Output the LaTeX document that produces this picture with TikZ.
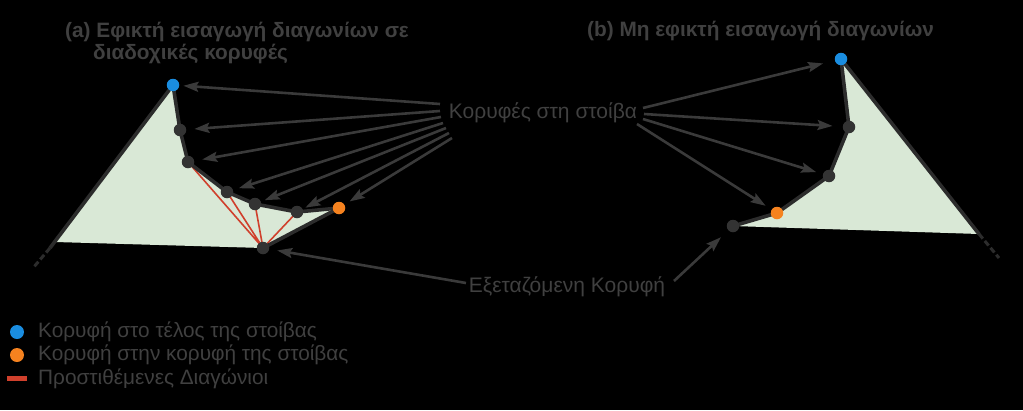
\documentclass[tikz,border=0pt]{standalone}
\usepackage{fontspec}
\setmainfont{Liberation Sans}
\usetikzlibrary{arrows.meta}
\definecolor{bg}{HTML}{000000}
\definecolor{txt}{HTML}{404040}
\definecolor{edge}{HTML}{2C2C2C}
\definecolor{vert}{HTML}{333333}
\definecolor{arr}{HTML}{3A3A3A}
\definecolor{fillg}{HTML}{D9E8D6}
\definecolor{vblue}{HTML}{1A8DE0}
\definecolor{vorange}{HTML}{F5821F}
\definecolor{diag}{HTML}{D0402C}
\tikzset{
  vtx/.style={circle,inner sep=0pt,minimum size=12.5pt,fill=vert},
  vtxb/.style={vtx,fill=vblue},
  vtxo/.style={vtx,fill=vorange},
  chain/.style={draw=edge,line width=3.6pt,line join=round},
  ext/.style={draw=edge,line width=3pt,dash pattern=on 6pt off 3pt},
  ptr/.style={draw=arr,line width=2.6pt,-{Stealth[length=15pt,width=10pt,inset=2.5pt]}},
  lbl/.style={text=txt,font=\fontsize{21}{25}\selectfont,inner sep=0pt},
  ttl/.style={text=txt,font=\bfseries\fontsize{20.8}{25}\selectfont,inner sep=0pt,anchor=west},
  leg/.style={text=txt,font=\fontsize{20.8}{25}\selectfont,inner sep=0pt,anchor=west},
  dg/.style={draw=diag,line width=1.6pt},
}
\begin{document}
\begin{tikzpicture}[x=1pt,y=-1pt]
\fill[bg] (0,0) rectangle (1023,410);
\useasboundingbox (0,0) rectangle (1023,410);
% ---------- (a) ----------
\coordinate (aL) at (55,242);
\coordinate (aLe) at (50,248);
\coordinate (aLd) at (33,268);
\coordinate (pA) at (173,85);
\coordinate (p1) at (180,130);
\coordinate (p2) at (188,162);
\coordinate (p3) at (227,192);
\coordinate (p4) at (255,204);
\coordinate (p5) at (297,212);
\coordinate (pO) at (339,208);
\coordinate (pX) at (263,248);
\fill[fillg] (pA) -- (p1) -- (p2) -- (p3) -- (p4) -- (p5) -- (pO) -- (pX) -- (aL) -- cycle;
\draw[dg] (pX) -- (p2) (pX) -- (p3) (pX) -- (p4) (pX) -- (p5);
\draw[chain] (aLe) -- (pA) -- (p1) -- (p2) -- (p3) -- (p4) -- (p5) -- (pO);
\draw[chain] (pO) -- (pX);
\draw[ext] (aLe) -- (aLd);
\node[vtxb] (a0) at (pA) {};
\node[vtx] (a1) at (p1) {};
\node[vtx] (a2) at (p2) {};
\node[vtx] (a3) at (p3) {};
\node[vtx] (a4) at (p4) {};
\node[vtx] (a5) at (p5) {};
\node[vtxo] (a6) at (pO) {};
\node[vtx] (ax) at (pX) {};
% ---------- (b) ----------
\coordinate (qA) at (841,59);
\coordinate (q1) at (849,127);
\coordinate (q2) at (829,176);
\coordinate (qO) at (777,213);
\coordinate (qX) at (733,226);
\coordinate (bR) at (979,234);
\coordinate (bRd) at (999,258);
\fill[fillg] (qA) -- (q1) -- (q2) -- (qO) -- (qX) -- (bR) -- cycle;
\draw[chain] (bR) -- (qA) -- (q1) -- (q2) -- (qO) -- (qX);
\draw[ext] (bR) -- (bRd);
\node[vtxb] (b0) at (qA) {};
\node[vtx] (b1) at (q1) {};
\node[vtx] (b2) at (q2) {};
\node[vtxo] (b3) at (qO) {};
\node[vtx] (bx) at (qX) {};
% ---------- labels ----------
\node[lbl] (stack) at (543,113) {Κορυφές στη στοίβα};
\node[lbl] (exam) at (567,287) {Εξεταζόμενη Κορυφή};
\node[ttl] (ta1) at (65,32) {(a) Εφικτή εισαγωγή διαγωνίων σε};
\node[ttl] (ta2) at (93,54) {διαδοχικές κορυφές};
\node[ttl] (tb) at (587,31) {(b) Μη εφικτή εισαγωγή διαγωνίων};
% arrow starts
\coordinate (s0) at (440,104);
\coordinate (s1) at (440,111);
\coordinate (s2) at (441,117);
\coordinate (s3) at (443,123);
\coordinate (s4) at (446,128);
\coordinate (s5) at (449,133);
\coordinate (s6) at (452,138);
\coordinate (r0) at (643,108);
\coordinate (r1) at (644,114);
\coordinate (r2) at (643,119);
\coordinate (r3) at (637,124);
\coordinate (e0) at (466,283);
\coordinate (e1) at (674,281);
\draw[ptr,shorten >=4pt] (s0) -- (a0);
\draw[ptr,shorten >=8pt] (s1) -- (a1);
\draw[ptr,shorten >=8pt] (s2) -- (a2);
\draw[ptr,shorten >=6pt] (s3) -- (a3);
\draw[ptr,shorten >=4pt] (s4) -- (a4);
\draw[ptr,shorten >=3pt] (s5) -- (a5);
\draw[ptr,shorten >=6pt] (s6) -- (a6);
\draw[ptr,shorten >=12pt] (r0) -- (b0);
\draw[ptr,shorten >=10pt] (r1) -- (b1);
\draw[ptr,shorten >=7pt] (r2) -- (b2);
\draw[ptr,shorten >=7pt] (r3) -- (b3);
\draw[ptr,shorten >=8pt] (e0) -- (ax);
\draw[ptr,shorten >=10pt] (e1) -- (bx);
% ---------- legend ----------
\node[circle,inner sep=0pt,minimum size=14pt,fill=vblue] (lb) at (17,332) {};
\node[circle,inner sep=0pt,minimum size=14pt,fill=vorange] (lo) at (17,355) {};
\node[fill=diag,inner sep=0pt,minimum width=20pt,minimum height=5pt] (lr) at (17,378) {};
\node[leg] (lbt) at (38,332) {Κορυφή στο τέλος της στοίβας};
\node[leg] (lot) at (38,355) {Κορυφή στην κορυφή της στοίβας};
\node[leg] (lrt) at (38,379) {Προστιθέμενες Διαγώνιοι};
\end{tikzpicture}
\end{document}
